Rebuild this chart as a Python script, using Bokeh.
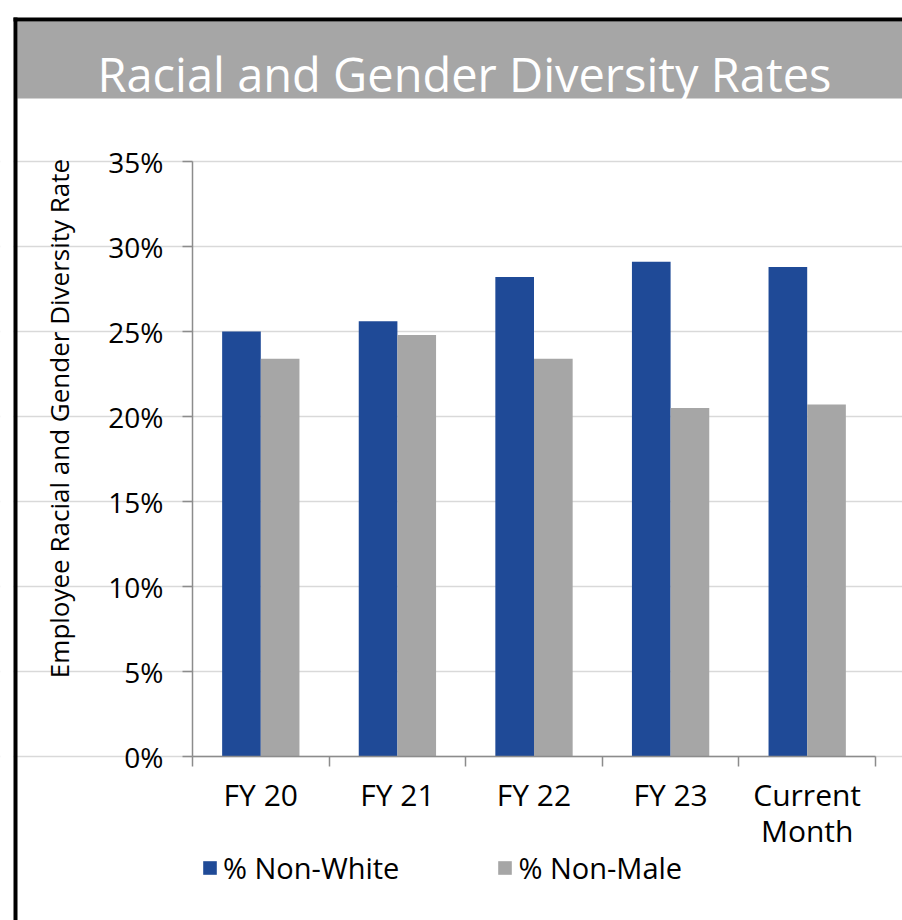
import math
from bokeh.plotting import figure
from bokeh.models import (ColumnDataSource, Range1d, FixedTicker, PrintfTickFormatter,
                          BoxAnnotation, Label, Legend, LegendItem)
from bokeh.transform import dodge
from bokeh.embed import file_html
from bokeh.resources import INLINE

# ---- data ----
categories = ["FY 20", "FY 21", "FY 22", "FY 23", "Current\nMonth"]
non_white = [25.0, 25.6, 28.2, 29.1, 28.8]
non_male = [23.4, 24.8, 23.4, 20.5, 20.7]
y_ticks = [0, 5, 10, 15, 20, 25, 30, 35]
y_max = 35
title_text = "Racial and Gender Diversity Rates"
y_label = "Employee Racial and Gender Diversity Rate"

FONT = "Open Sans"
BLUE = "#1f4a97"
GRAY = "#a6a6a6"
AXIS_GRAY = "#8c8c8c"

# ---- layout (pixels on the canvas) ----
W, H = 902, 920
PX_LEFT, PX_RIGHT, PX_TOP, PX_BOTTOM = 192, 875, 161, 756
n = len(categories)
ux = (PX_RIGHT - PX_LEFT) / n
uy = (PX_BOTTOM - PX_TOP) / y_max
x_range = Range1d(-PX_LEFT / ux, n + (W - PX_RIGHT) / ux)
y_range = Range1d(-(H - PX_BOTTOM) / uy, y_max + PX_TOP / uy)

centers = [i + 0.5 for i in range(n)]
src = ColumnDataSource(dict(x=centers, nw=non_white, nm=non_male))

p = figure(width=W, height=H, output_backend="svg", toolbar_location=None,
           x_range=x_range, y_range=y_range, min_border=0)
p.min_border_left = p.min_border_right = p.min_border_top = p.min_border_bottom = 0
p.title.visible = False
p.outline_line_color = None
p.background_fill_color = "white"
p.border_fill_color = "white"

bw = 0.283
r1 = p.vbar(x=dodge("x", -bw / 2, range=p.x_range), top="nw", width=bw, source=src,
            fill_color=BLUE, line_color=None)
r2 = p.vbar(x=dodge("x", bw / 2, range=p.x_range), top="nm", width=bw, source=src,
            fill_color=GRAY, line_color=None)

# x axis
xa = p.xaxis[0]
xa.fixed_location = 0
xa.bounds = (0, n)
xa.ticker = FixedTicker(ticks=centers, minor_ticks=list(range(n + 1)))
xa.major_label_overrides = {c: lab for c, lab in zip(centers, categories)}
xa.major_tick_line_color = None
xa.major_tick_out = 10
xa.major_tick_in = 0
xa.minor_tick_line_color = AXIS_GRAY
xa.minor_tick_out = 10
xa.minor_tick_in = 0
xa.minor_tick_line_width = 1.5
xa.axis_line_color = AXIS_GRAY
xa.axis_line_width = 1.5
xa.major_label_text_font = FONT
xa.major_label_text_font_size = "30px"
xa.major_label_text_color = "black"
xa.major_label_text_line_height = 0.9
xa.major_label_standoff = 7

# y axis
ya = p.yaxis[0]
ya.fixed_location = 0
ya.bounds = (0, y_max)
ya.ticker = FixedTicker(ticks=y_ticks, minor_ticks=[])
ya.formatter = PrintfTickFormatter(format="%d%%")
ya.axis_line_color = AXIS_GRAY
ya.axis_line_width = 1.5
ya.major_tick_line_color = AXIS_GRAY
ya.major_tick_line_width = 1.5
ya.major_tick_out = 10
ya.major_tick_in = 0
ya.major_label_text_font = FONT
ya.major_label_text_font_size = "28px"
ya.major_label_text_color = "black"
ya.major_label_standoff = 19

p.xgrid.grid_line_color = None
p.ygrid.ticker = FixedTicker(ticks=y_ticks)
p.ygrid.bounds = (0, n)
p.ygrid.grid_line_color = "#d9d9d9"
p.ygrid.grid_line_width = 1.5

# legend (below the category labels)
legend = Legend(items=[LegendItem(label="% Non-White", renderers=[r1]),
                       LegendItem(label="% Non-Male", renderers=[r2])],
                orientation="horizontal", location=(201, 33),
                glyph_width=17, glyph_height=17, label_standoff=5, spacing=97,
                padding=0, margin=0, border_line_color=None,
                background_fill_alpha=0,
                label_text_font=FONT, label_text_font_size="29px",
                label_text_color="black")
p.add_layout(legend)

# y axis title (rotated)
p.add_layout(Label(x=58, y=418, x_units="canvas", y_units="canvas", text=y_label,
                   angle=math.pi / 2, text_align="center", text_baseline="alphabetic",
                   text_font=FONT, text_font_size="26px", text_color="black"))

# decorations: frame border and title bar
box_kw = dict(left_units="canvas", right_units="canvas", top_units="canvas",
              bottom_units="canvas", fill_alpha=1, line_color=None, level="overlay")
p.add_layout(BoxAnnotation(left=0, right=13, top=0, bottom=H, fill_color="white", **box_kw))
p.add_layout(BoxAnnotation(left=17, right=W, top=21, bottom=98, fill_color=GRAY, **box_kw))
p.add_layout(BoxAnnotation(left=13, right=W, top=17, bottom=21, fill_color="black", **box_kw))
p.add_layout(BoxAnnotation(left=13, right=17, top=17, bottom=H, fill_color="black", **box_kw))
p.add_layout(Label(x=464, y=73, x_units="canvas", y_units="canvas", text=title_text,
                   text_align="center", text_baseline="alphabetic", level="overlay",
                   text_font=FONT, text_font_size="47px", text_color="white"))

open("out.html", "w").write(file_html(p, INLINE))
